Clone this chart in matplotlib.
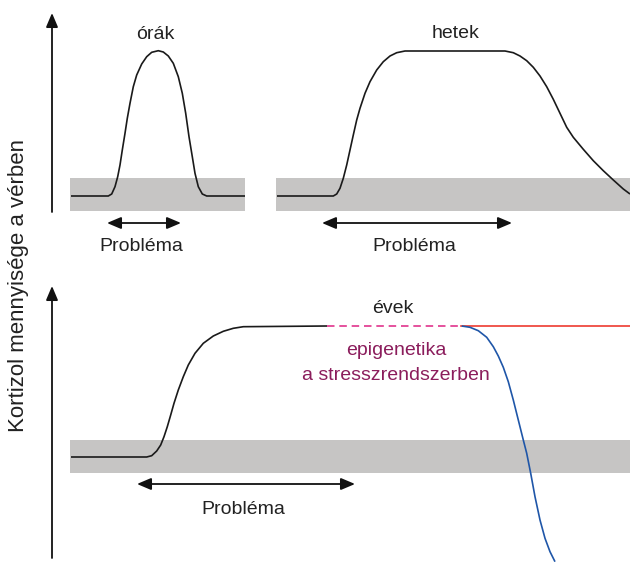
import matplotlib
matplotlib.use("Agg")
import matplotlib.pyplot as plt

# ---------------- data (picture pixel coordinates, y downward) ----------------
# top-left panel: "órák"
hours_x = [71, 108.3, 111.7, 115, 117.7, 120, 122.3, 125, 127.3, 130, 133.3, 136.7, 141.7, 146.7, 151.7,
           158.3, 163.3, 168.3, 173.3, 178.3, 182.3, 185.7, 189, 192.3, 195, 198.3, 202.3, 206.7, 245]
hours_y = [196, 196, 194, 186.7, 176.7, 165, 150, 133.3, 118.3, 103.3, 86.7, 75, 64, 56.7, 52.3,
           50.7, 52, 56, 63.3, 76.7, 93.3, 113.3, 136.7, 156.7, 173.3, 186.7, 194, 196, 196]

# top-right panel: "hetek"
weeks_x = [277, 333.3, 336.7, 340, 343.3, 346.7, 350, 353.3, 356.7, 360, 365, 370, 376.7, 383.3, 390, 396.7,
           405, 505, 513.3, 520, 526.7, 533.3, 540, 546.7, 553.3, 560, 566.7, 573.3, 583.3, 593.3, 603.3,
           613.3, 623.3, 630]
weeks_y = [196, 196, 194, 188.3, 178.3, 165, 150, 135, 120, 108.3, 93.3, 81.7, 70, 61.7, 56, 52.7,
           51, 51, 52.7, 56, 60.7, 67.3, 76, 86.7, 99.3, 113.3, 127.3, 137.3, 149.3, 160.7, 170.7,
           180, 189, 194]

# bottom panel: "évek"
years_x = [71, 146.7, 151.7, 156.7, 160.7, 164, 167.3, 170.7, 174, 178.3, 183.3, 188.3, 195, 203.3,
           213.3, 223.3, 233.3, 243.3, 327]
years_y = [457, 457, 455.7, 451, 445, 436.7, 426.7, 415, 403.3, 390, 376.7, 365, 353.3, 343.3,
           336, 331.3, 328.3, 326.7, 326]
epi_x = [327, 461]
epi_y = [326, 326]
red_x = [461, 630]
red_y = [326, 326]
blue_x = [461.7, 470, 478.3, 486.7, 493.3, 498.3, 503.3, 508.3, 513.3, 518.3, 523.3, 526.7, 530.7,
          535, 540, 545, 550, 555]
blue_y = [326, 327.3, 330.7, 337.3, 346.7, 356, 367.3, 381.7, 400, 420, 440, 453.3, 473.3,
          496.7, 520, 538.3, 551.7, 561.7]

# normal range bands: (x0, x1, y_top, y_bottom)
bands = [(70, 245, 178, 211), (276, 630, 178, 211), (70, 630, 440, 473)]

# "Probléma" double arrows: (x0, x1, y)
problem_arrows = [(107, 181, 223), (322, 512, 223), (137, 355, 484)]
problem_labels = [(141, 251, "Probléma"), (414, 251, "Probléma"), (243, 514, "Probléma")]

# time-scale labels
scale_labels = [(155, 39, "órák"), (456, 38, "hetek"), (393, 313, "évek")]
epi_labels = [(396, 355, "epigenetika"), (396, 380, "a stresszrendszerben")]

# vertical axes: (x, y_bottom, y_top)
axes_arrows = [(52, 212, 13), (52, 558, 286)]

ylabel = "Kortizol mennyisége a vérben"

# ---------------- drawing ----------------
plt.rcParams['font.family'] = ['Liberation Sans', 'DejaVu Sans']
fig = plt.figure(figsize=(6.3, 5.62), dpi=100)
ax = fig.add_axes([0, 0, 1, 1])
ax.set_xlim(0, 630)
ax.set_ylim(562, 0)
ax.axis('off')

band_col = '#c6c5c4'
for x0, x1, yt, yb in bands:
    ax.fill_between([x0, x1], [yt, yt], [yb, yb], color=band_col, lw=0, zorder=1)

lw = 1.2
style = dict(lw=lw, zorder=3, solid_joinstyle='round', solid_capstyle='butt')
ax.plot(hours_x, hours_y, color='#1a1a1a', **style)
ax.plot(weeks_x, weeks_y, color='#1a1a1a', **style)
ax.plot(years_x, years_y, color='#1a1a1a', **style)
ax.plot(epi_x, epi_y, color='#e0338c', lw=lw, dashes=(4.5, 2.9), zorder=3)
ax.plot(red_x, red_y, color='#ee3b30', lw=lw, zorder=3)
ax.plot(blue_x, blue_y, color='#1f56a8', **style)

for x0, x1, y in problem_arrows:
    ax.annotate('', xy=(x1, y), xytext=(x0, y),
                arrowprops=dict(arrowstyle='<|-|>,head_length=0.85,head_width=0.36',
                                color='#111111', lw=1.3, shrinkA=0, shrinkB=0))

for x, yb, yt in axes_arrows:
    ax.annotate('', xy=(x, yt), xytext=(x, yb),
                arrowprops=dict(arrowstyle='-|>,head_length=0.85,head_width=0.36',
                                color='#111111', lw=1.3, shrinkA=0, shrinkB=0))

fs = 14
for x, y, t in problem_labels:
    ax.text(x, y, t, ha='center', va='baseline', fontsize=fs, color='#222222')
for x, y, t in scale_labels:
    ax.text(x, y, t, ha='center', va='baseline', fontsize=fs, color='#222222')
for x, y, t in epi_labels:
    ax.text(x, y, t, ha='center', va='baseline', fontsize=fs, color='#8b1d5c')

ax.text(19, 285, ylabel, rotation=90, ha='center', va='center', fontsize=16, color='#222222')

fig.savefig('out.png', dpi=100)
